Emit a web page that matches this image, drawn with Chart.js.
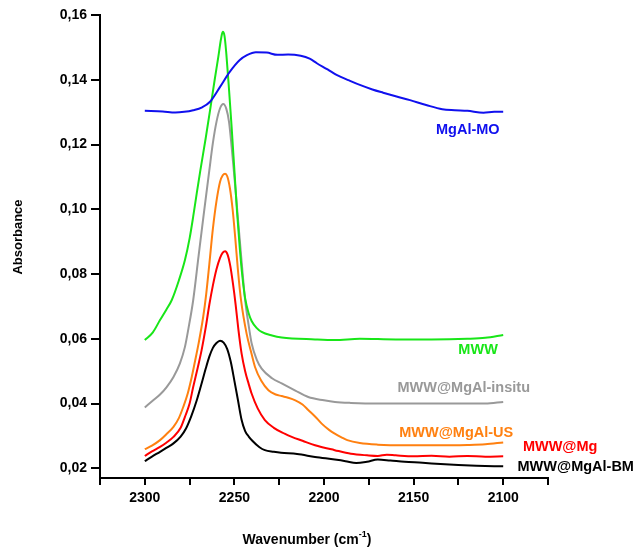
<!DOCTYPE html>
<html>
<head>
<meta charset="utf-8">
<script src="https://cdn.jsdelivr.net/npm/chart.js@4/dist/chart.umd.min.js"></script>
<style>
  body { margin: 0; background: #fff; }
  canvas { display: block; }
</style>
</head>
<body>
<canvas id="irChart" width="638" height="550"></canvas>
<script>
// Wavenumbers (cm-1) and absorbance readings, one pair of arrays per sample
const mgalMoWn  = [2300, 2290, 2283, 2278, 2273, 2268, 2263.6, 2258, 2252.5, 2247, 2243, 2238, 2232, 2226, 2220, 2213, 2208, 2204, 2198, 2193, 2186, 2180, 2173, 2167, 2160, 2152, 2143, 2134, 2127, 2120, 2111, 2105, 2100];
const mgalMoAbs = [0.1304, 0.1302, 0.1299, 0.1301, 0.1306, 0.1315, 0.1332, 0.1378, 0.1425, 0.1461, 0.1476, 0.1485, 0.1484, 0.1477, 0.1478, 0.1474, 0.1465, 0.1451, 0.1432, 0.1415, 0.1398, 0.1384, 0.1370, 0.1360, 0.1349, 0.1337, 0.1322, 0.1309, 0.1306, 0.1304, 0.1298, 0.1301, 0.1301];

const mwwWn  = [2300, 2295.5, 2291.5, 2288, 2285, 2281, 2277.6, 2275, 2273, 2271, 2269, 2266, 2263, 2261, 2259, 2257.5, 2256.5, 2255.5, 2254.5, 2253, 2251.5, 2250, 2248.5, 2247, 2245.5, 2244, 2242, 2240.4, 2237.5, 2234.8, 2229, 2223.6, 2205, 2194, 2180, 2160, 2140, 2120, 2110, 2100];
const mwwAbs = [0.0596, 0.062, 0.0658, 0.069, 0.0719, 0.078, 0.0843, 0.091, 0.0977, 0.105, 0.112, 0.122, 0.1327, 0.140, 0.147, 0.1525, 0.1548, 0.1535, 0.148, 0.137, 0.125, 0.112, 0.099, 0.088, 0.079, 0.0725, 0.0678, 0.0655, 0.0633, 0.0621, 0.061, 0.0604, 0.0598, 0.0596, 0.060, 0.0598, 0.0598, 0.060, 0.0603, 0.0612];

const insituWn  = [2300, 2295.3, 2291.5, 2287.8, 2284, 2280.4, 2277.6, 2275.7, 2273, 2270, 2267, 2264, 2262, 2260, 2258, 2256.2, 2254.5, 2253, 2251.5, 2250, 2248, 2246, 2244, 2242, 2240.4, 2237.5, 2234.8, 2229, 2223.6, 2216, 2208.8, 2200, 2193.9, 2185, 2170, 2155, 2140, 2125, 2110, 2100];
const insituAbs = [0.0388, 0.041, 0.0428, 0.0451, 0.0482, 0.0524, 0.0575, 0.063, 0.0719, 0.0855, 0.099, 0.112, 0.1205, 0.127, 0.1312, 0.1325, 0.131, 0.127, 0.119, 0.110, 0.097, 0.084, 0.0719, 0.064, 0.0586, 0.0535, 0.0508, 0.0478, 0.0462, 0.044, 0.042, 0.041, 0.0405, 0.0402, 0.040, 0.040, 0.040, 0.040, 0.040, 0.0405];

const usWn  = [2300, 2296, 2291.5, 2288, 2284, 2281, 2278.5, 2276, 2273.8, 2272, 2270, 2267.4, 2265.8, 2264, 2262, 2260, 2258, 2256.5, 2255.2, 2254, 2252.5, 2251, 2249.5, 2248, 2246.3, 2243.2, 2240.5, 2238.5, 2235, 2231, 2227, 2223.6, 2220, 2216, 2212, 2208.8, 2205, 2201.3, 2197, 2194, 2190, 2187, 2180, 2170, 2155, 2140, 2120, 2110, 2100];
const usAbs = [0.0259, 0.027, 0.0287, 0.0305, 0.0328, 0.0355, 0.039, 0.0432, 0.0482, 0.053, 0.0585, 0.0668, 0.0735, 0.083, 0.094, 0.1025, 0.1085, 0.1105, 0.111, 0.1102, 0.1065, 0.100, 0.091, 0.081, 0.0719, 0.0616, 0.0555, 0.0513, 0.047, 0.0441, 0.0428, 0.0423, 0.0418, 0.041, 0.0397, 0.038, 0.036, 0.0338, 0.0318, 0.0307, 0.0295, 0.0287, 0.0278, 0.0273, 0.0271, 0.0271, 0.0272, 0.0274, 0.028];

const mgWn  = [2300, 2296, 2291.5, 2288, 2284, 2280, 2277.6, 2275, 2273, 2270.5, 2268.3, 2266, 2264, 2262, 2260, 2258, 2256.5, 2255.2, 2253.8, 2252.3, 2250.8, 2249.3, 2247.8, 2246, 2244, 2242, 2240.4, 2237, 2233, 2228, 2222, 2218, 2212, 2205, 2194, 2185, 2176, 2170, 2165, 2160, 2150, 2140, 2130, 2120, 2110, 2100];
const mgAbs = [0.0238, 0.0252, 0.0266, 0.0279, 0.0297, 0.0325, 0.0359, 0.040, 0.0451, 0.051, 0.0565, 0.0635, 0.0705, 0.0765, 0.0815, 0.085, 0.0866, 0.087, 0.086, 0.0825, 0.077, 0.0705, 0.063, 0.0555, 0.050, 0.046, 0.0431, 0.0385, 0.0349, 0.0325, 0.0307, 0.0297, 0.0285, 0.0271, 0.0256, 0.0245, 0.024, 0.0238, 0.0242, 0.024, 0.0237, 0.0239, 0.0236, 0.0238, 0.0236, 0.0237];

const bmWn  = [2300, 2296, 2291.5, 2288, 2284, 2280, 2277, 2274, 2271, 2268.5, 2266, 2264, 2262, 2260, 2258, 2256, 2254, 2252, 2250, 2248, 2246, 2244, 2242, 2240, 2236, 2233, 2228, 2224, 2215, 2205, 2194, 2188, 2182, 2176, 2170, 2163, 2155, 2145, 2135, 2125, 2115, 2100];
const bmAbs = [0.0222, 0.0236, 0.0251, 0.0263, 0.0277, 0.0298, 0.0323, 0.0362, 0.041, 0.0458, 0.0508, 0.0545, 0.0572, 0.0587, 0.0594, 0.0588, 0.0568, 0.0528, 0.047, 0.041, 0.035, 0.0315, 0.0298, 0.0285, 0.0265, 0.0256, 0.0251, 0.0248, 0.0244, 0.0235, 0.0227, 0.0222, 0.0216, 0.022, 0.0227, 0.0224, 0.022, 0.0217, 0.0213, 0.021, 0.0208, 0.0206];

const yTicks = [0.02, 0.04, 0.06, 0.08, 0.10, 0.12, 0.14, 0.16];
const xTicks = [2300, 2250, 2200, 2150, 2100];

function pts(wn, abs) {
    return wn.map((w, i) => ({ x: w, y: abs[i] }));
}

const series = [
    { name: 'MgAl-MO',         color: '#1010ee', data: pts(mgalMoWn, mgalMoAbs) },
    { name: 'MWW',             color: '#18e618', data: pts(mwwWn, mwwAbs) },
    { name: 'MWW@MgAl-insitu', color: '#999999', data: pts(insituWn, insituAbs) },
    { name: 'MWW@MgAl-US',     color: '#ff8010', data: pts(usWn, usAbs) },
    { name: 'MWW@Mg',          color: '#ff0000', data: pts(mgWn, mgAbs) },
    { name: 'MWW@MgAl-BM',     color: '#000000', data: pts(bmWn, bmAbs) }
];

// curve labels, placed in data units next to each trace
const curveLabels = [
    { text: 'MgAl-MO',         wn: 2102, abs: 0.1245, align: 'right' },
    { text: 'MWW',             wn: 2103, abs: 0.0565, align: 'right' },
    { text: 'MWW@MgAl-insitu', wn: 2159, abs: 0.0448, align: 'left' },
    { text: 'MWW@MgAl-US',     wn: 2158, abs: 0.0308, align: 'left' },
    { text: 'MWW@Mg',          wn: 2089, abs: 0.0265, align: 'left' },
    { text: 'MWW@MgAl-BM',     wn: 2092, abs: 0.0203, align: 'left' }
];

const FONT = '"Liberation Sans", Arial, sans-serif';

const labelPlugin = {
    id: 'curveLabels',
    afterDatasetsDraw(chart) {
        const { ctx, scales } = chart;
        ctx.save();
        ctx.font = 'bold 14.5px ' + FONT;
        ctx.textBaseline = 'middle';
        curveLabels.forEach(l => {
            ctx.fillStyle = series.find(s => s.name === l.text).color;
            ctx.textAlign = l.align;
            ctx.fillText(l.text, scales.x.getPixelForValue(l.wn), scales.y.getPixelForValue(l.abs));
        });
        ctx.restore();
    }
};

const titlePlugin = {
    id: 'axisTitles',
    afterDraw(chart) {
        const { ctx } = chart;
        ctx.save();
        ctx.fillStyle = '#000';
        ctx.textBaseline = 'middle';

        // y title
        ctx.save();
        ctx.translate(18, 237);
        ctx.rotate(-Math.PI / 2);
        ctx.textAlign = 'center';
        ctx.font = 'bold 13px ' + FONT;
        ctx.fillText('Absorbance', 0, 0);
        ctx.restore();

        // x title with superscript
        const main = 'Wavenumber (cm';
        const sup = '-1';
        const close = ')';
        ctx.font = 'bold 14px ' + FONT;
        const wMain = ctx.measureText(main).width;
        const wClose = ctx.measureText(close).width;
        ctx.font = 'bold 9px ' + FONT;
        const wSup = ctx.measureText(sup).width;
        let x = 307 - (wMain + wSup + wClose) / 2;
        const y = 540;
        ctx.textAlign = 'left';
        ctx.font = 'bold 14px ' + FONT;
        ctx.fillText(main, x, y);
        x += wMain;
        ctx.font = 'bold 9px ' + FONT;
        ctx.fillText(sup, x, y - 5);
        x += wSup;
        ctx.font = 'bold 14px ' + FONT;
        ctx.fillText(close, x, y);
        ctx.restore();
    }
};

const ctx = document.getElementById('irChart').getContext('2d');
new Chart(ctx, {
    type: 'line',
    data: {
        datasets: series.map(s => ({
            label: s.name,
            data: s.data,
            borderColor: s.color,
            borderWidth: 2,
            pointRadius: 0,
            fill: false,
            cubicInterpolationMode: 'monotone'
        }))
    },
    options: {
        responsive: false,
        animation: false,
        layout: { padding: { top: 15, right: 90, left: 0, bottom: 0 } },
        plugins: {
            legend: { display: false },
            tooltip: { enabled: false }
        },
        scales: {
            x: {
                type: 'linear',
                reverse: true,
                min: 2075,
                max: 2325,
                afterFit(scale) { scale.height = 72; },
                grid: { drawOnChartArea: false, drawTicks: true, tickLength: 7, color: '#000', lineWidth: 2 },
                border: { color: '#000', width: 2 },
                ticks: {
                    stepSize: 25,
                    autoSkip: false,
                    maxRotation: 0,
                    padding: 5,
                    color: '#000',
                    font: { family: FONT, size: 14, weight: 'bold' },
                    callback: v => xTicks.includes(v) ? String(v) : ''
                }
            },
            y: {
                min: 0.017,
                max: 0.16,
                afterFit(scale) { scale.width = 100; },
                grid: { drawOnChartArea: false, drawTicks: true, tickLength: 9, color: '#000', lineWidth: 2 },
                border: { color: '#000', width: 2 },
                ticks: {
                    stepSize: 0.02,
                    includeBounds: false,
                    padding: 4,
                    color: '#000',
                    font: { family: FONT, size: 14, weight: 'bold' },
                    callback: v => yTicks.some(t => Math.abs(t - v) < 1e-6) ? v.toFixed(2).replace('.', ',') : ''
                }
            }
        }
    },
    plugins: [labelPlugin, titlePlugin]
});
</script>
</body>
</html>
